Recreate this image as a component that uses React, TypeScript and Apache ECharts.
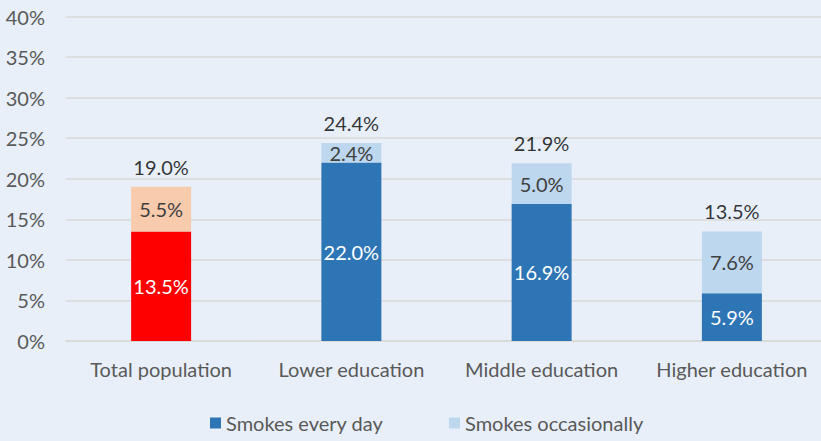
import React, { useEffect, useRef } from "react";
import * as echarts from "echarts";

const categories = ["Total population", "Lower education", "Middle education", "Higher education"];
const everyDay = [13.5, 22.0, 16.9, 5.9];
const occasionally = [5.5, 2.4, 5.0, 7.6];
const totals = [19.0, 24.4, 21.9, 13.5];
const seriesNames = ["Smokes every day", "Smokes occasionally"];

const FONT = "Lato, 'Open Sans', sans-serif";
const BLUE = "#2E75B6";
const LIGHT = "#BDD7EE";
const RED = "#FF0000";
const PEACH = "#F8CBAD";
const FS = 20;

export default function App() {
  const ref = useRef<HTMLDivElement>(null);
  useEffect(() => {
    document.body.style.margin = "0";
    const chart = echarts.init(ref.current!, null, { renderer: "svg" });
    const legendBase = {
      bottom: 3,
      itemWidth: 11,
      itemHeight: 11,
      itemGap: 5,
      icon: "rect",
      textStyle: { fontSize: FS, color: "#595959", fontFamily: FONT, padding: [0, 0, 0, 0] },
    };
    chart.setOption({
      animation: false,
      backgroundColor: "#E8EFF8",
      textStyle: { fontFamily: FONT },
      grid: { left: 66, top: 16.5, width: 761, height: 324.5, containLabel: false },
      legend: [
        { ...legendBase, data: [seriesNames[0]], left: 205 },
        { ...legendBase, data: [seriesNames[1]], left: 444 },
      ],
      xAxis: {
        type: "category",
        data: categories,
        axisLine: { lineStyle: { color: "#D9D9D9", width: 1.5 } },
        axisTick: { show: false },
        axisLabel: {
          color: "#595959",
          fontSize: FS,
          margin: 18,
          fontFamily: FONT,
          interval: 0,
          hideOverlap: false,
        },
      },
      yAxis: {
        type: "value",
        min: 0,
        max: 40,
        interval: 5,
        axisLine: { show: false },
        axisTick: { show: false },
        splitLine: { lineStyle: { color: "#D9D9D9", width: 1.5 } },
        axisLabel: {
          color: "#595959",
          fontSize: FS,
          margin: 21,
          fontFamily: FONT,
          formatter: (v: number) => v + "%",
        },
      },
      series: [
        {
          name: seriesNames[0],
          type: "bar",
          stack: "s",
          barWidth: 60,
          itemStyle: { color: BLUE },
          data: everyDay.map((v, i) => (i === 0 ? { value: v, itemStyle: { color: RED } } : v)),
          label: {
            show: true,
            position: "inside",
            color: "#FFFFFF",
            fontSize: FS,
            fontFamily: FONT,
            formatter: (p: any) => p.value.toFixed(1) + "%",
          },
        },
        {
          name: seriesNames[1],
          type: "bar",
          stack: "s",
          barWidth: 60,
          itemStyle: { color: LIGHT },
          data: occasionally.map((v, i) => (i === 0 ? { value: v, itemStyle: { color: PEACH } } : v)),
          label: {
            show: true,
            position: "inside",
            color: "#404040",
            fontSize: FS,
            fontFamily: FONT,
            formatter: (p: any) => p.value.toFixed(1) + "%",
          },
        },
        {
          name: "Total",
          type: "scatter",
          symbolSize: 0,
          silent: true,
          data: totals,
          label: {
            show: true,
            position: "top",
            distance: 10,
            color: "#000000",
            fontSize: FS,
            fontFamily: FONT,
            formatter: (p: any) => p.value.toFixed(1) + "%",
          },
        },
      ],
    });
    return () => chart.dispose();
  }, []);
  return (
    <div style={{ width: 821, height: 441, overflow: "hidden", position: "relative" }}>
      <div ref={ref} style={{ width: 832, height: 441 }} />
    </div>
  );
}
